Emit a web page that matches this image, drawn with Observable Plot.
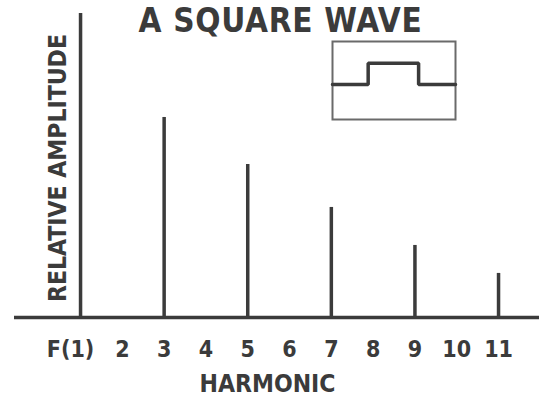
<!DOCTYPE html>
<html>
<head>
<meta charset="utf-8">
<script src="https://cdn.jsdelivr.net/npm/d3@7"></script>
<script src="https://cdn.jsdelivr.net/npm/@observablehq/plot@0.6"></script>
<style>
  html, body { margin: 0; padding: 0; background: #fff; }
  #chart { position: relative; width: 539px; height: 396px; overflow: hidden; }
  #inset { position: absolute; left: 331px; top: 40px; }
  svg text { font-family: "DejaVu Sans", sans-serif; font-weight: bold; font-stretch: condensed; }
</style>
</head>
<body>
<div id="chart"><div id="inset"></div></div>
<script>
// Data
const harmonics = [1, 3, 5, 7, 9, 11];
const amplitudes = [1.0, 0.658, 0.503, 0.362, 0.237, 0.145];
const tickValues = [2, 3, 4, 5, 6, 7, 8, 9, 10, 11];
const tickLabels = ["2", "3", "4", "5", "6", "7", "8", "9", "10", "11"];
const fundamentalLabel = "F(1)";
const titleText = "A SQUARE WAVE";
const yLabel = "RELATIVE AMPLITUDE";
const xLabel = "HARMONIC";
// inset square-wave icon (normalised time, level)
const waveT = [0, 0.29, 0.29, 0.70, 0.70, 1];
const waveV = [0.45, 0.45, 0.72, 0.72, 0.45, 0.45];

const ink = "#3b3b3b";
const bars = harmonics.map((h, i) => ({h, a: amplitudes[i]}));
const ticks = tickValues.map((v, i) => ({v, label: tickLabels[i]}));

const chart = Plot.plot({
  width: 539,
  height: 396,
  marginLeft: 14,
  marginRight: 0,
  marginTop: 13,
  marginBottom: 79,
  style: {background: "transparent", color: ink, overflow: "visible"},
  x: {domain: [-0.58, 11.98], axis: null},
  y: {domain: [0, 1], axis: null},
  marks: [
    Plot.ruleY([0], {stroke: ink, strokeWidth: 3.5}),
    Plot.ruleX(bars, {x: "h", y1: 0, y2: "a", stroke: ink, strokeWidth: 3.5}),
    Plot.text(ticks, {x: "v", y: 0, text: "label", dy: 32, lineAnchor: "middle", fontSize: 23, fill: ink}),
    Plot.text([fundamentalLabel], {x: 1, y: 0, text: d => d, dx: -10, dy: 32, lineAnchor: "middle", fontSize: 23, fill: ink}),
    Plot.text([xLabel], {frameAnchor: "bottom", text: d => d, dx: -9.5, dy: 74, lineAnchor: "bottom", fontSize: 24.5, fill: ink}),
    Plot.text([titleText], {frameAnchor: "top", text: d => d, dx: 3.5, dy: 18, lineAnchor: "bottom", fontSize: 33, fill: ink}),
    Plot.text([yLabel], {frameAnchor: "left", text: d => d, textAnchor: "middle", dx: 43.5, dy: 2.5, rotate: -90, lineAnchor: "middle", fontSize: 24.5, fill: ink})
  ]
});
chart.querySelectorAll("text").forEach(t => {
  if (t.textContent === titleText) t.setAttribute("letter-spacing", "0.7");
});
document.getElementById("chart").prepend(chart);

const wave = waveT.map((t, i) => ({t, v: waveV[i]}));
const inset = Plot.plot({
  width: 125,
  height: 80,
  margin: 1,
  style: {background: "transparent", overflow: "visible"},
  x: {domain: [0, 1], axis: null},
  y: {domain: [0, 1], axis: null},
  marks: [
    Plot.frame({stroke: "#6a6a6a", strokeWidth: 2}),
    Plot.line(wave, {x: "t", y: "v", stroke: ink, strokeWidth: 3.5, curve: "linear", strokeLinejoin: "miter"})
  ]
});
document.getElementById("inset").append(inset);
</script>
</body>
</html>
